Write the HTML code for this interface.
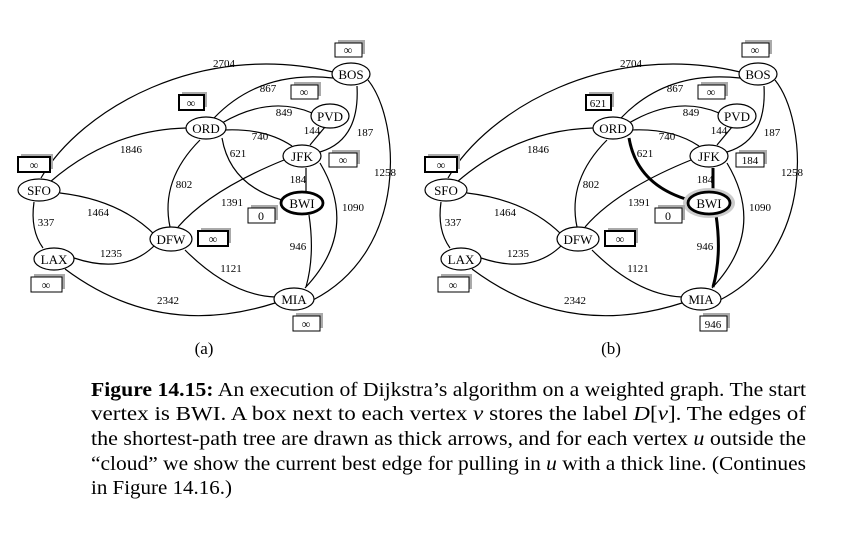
<!DOCTYPE html>
<html><head><meta charset="utf-8"><style>
html,body{margin:0;padding:0;background:#fff;}
svg{display:block;}
text{font-family:"Liberation Serif",serif;}
.l{font-size:11px;fill:#000;text-anchor:middle;}
.n{font-size:13px;text-anchor:middle;}
.e{fill:none;stroke:#000;stroke-width:1.2;}
.t{fill:none;stroke:#000;stroke-width:3;}
.c{font-size:20px;}
</style></head><body>
<svg width="844" height="534" viewBox="0 0 844 534" xmlns="http://www.w3.org/2000/svg">
<defs>
<g id="edges">
<path class="e" d="M41 178 C80 110 200 40 333 72"/>
<path class="e" d="M214 118 Q260 70 333 78"/>
<path class="e" d="M222 123 Q270 95 312 113"/>
<path class="e" d="M224 130 Q265 128 292 146"/>
<path class="e" d="M200 140 Q160 180 170 227"/>
<path class="e" d="M50 182 Q110 130 186 128"/>
<path class="e" d="M325 127 L310 145"/>
<path class="e" d="M357 86 Q360 140 320 152"/>
<path class="e" d="M368 80 C400 120 410 250 313 300"/>
<path class="e" d="M284 160 Q210 190 178 227"/>
<path class="e" d="M320 163 Q360 230 305 288"/>
<path class="e" d="M60 193 Q120 200 155 235"/>
<path class="e" d="M34 202 Q30 230 43 248"/>
<path class="e" d="M74 258 Q125 275 155 245"/>
<path class="e" d="M185 250 Q230 295 275 297"/>
<path class="e" d="M65 269 Q160 340 275 303"/>
</g>
<g id="nodes">
<ellipse cx="351" cy="74" rx="19" ry="11" fill="#fff" stroke="#000" stroke-width="1.2"/>
<ellipse cx="330" cy="116" rx="19" ry="12" fill="#fff" stroke="#000" stroke-width="1.2"/>
<ellipse cx="206" cy="128" rx="20" ry="11" fill="#fff" stroke="#000" stroke-width="1.2"/>
<ellipse cx="302" cy="156" rx="19" ry="11" fill="#fff" stroke="#000" stroke-width="1.2"/>
<ellipse cx="39" cy="190" rx="21" ry="11" fill="#fff" stroke="#000" stroke-width="1.2"/>
<ellipse cx="171" cy="239" rx="21" ry="12" fill="#fff" stroke="#000" stroke-width="1.2"/>
<ellipse cx="54" cy="259" rx="20" ry="11" fill="#fff" stroke="#000" stroke-width="1.2"/>
<ellipse cx="294" cy="299" rx="20" ry="11" fill="#fff" stroke="#000" stroke-width="1.2"/>
<text class="n" x="351" y="79">BOS</text>
<text class="n" x="330" y="121">PVD</text>
<text class="n" x="206" y="133">ORD</text>
<text class="n" x="302" y="161">JFK</text>
<text class="n" x="39" y="195">SFO</text>
<text class="n" x="171" y="244">DFW</text>
<text class="n" x="54" y="264">LAX</text>
<text class="n" x="294" y="304">MIA</text>
<text class="l" x="224" y="67">2704</text>
<text class="l" x="268" y="92">867</text>
<text class="l" x="284" y="116">849</text>
<text class="l" x="312" y="134">144</text>
<text class="l" x="365" y="136">187</text>
<text class="l" x="260" y="140">740</text>
<text class="l" x="131" y="153">1846</text>
<text class="l" x="385" y="176">1258</text>
<text class="l" x="298" y="183">184</text>
<text class="l" x="184" y="188">802</text>
<text class="l" x="232" y="206">1391</text>
<text class="l" x="353" y="211">1090</text>
<text class="l" x="98" y="216">1464</text>
<text class="l" x="46" y="226">337</text>
<text class="l" x="298" y="250">946</text>
<text class="l" x="111" y="257">1235</text>
<text class="l" x="231" y="272">1121</text>
<text class="l" x="168" y="304">2342</text>
</g>
</defs>

<!-- (a) -->
<use href="#edges"/>
<text class="l" x="238" y="157">621</text>
<path class="e" d="M222 138 Q230 185 282 200"/>
<path class="e" d="M306 168 L306 191"/>
<path class="e" d="M309 215 Q315 255 306 287"/>
<use href="#nodes"/>
<ellipse cx="302" cy="203" rx="21" ry="11" fill="#fff" stroke="#000" stroke-width="2.8"/>
<text class="n" x="302" y="208">BWI</text>
<g font-size="12" text-anchor="middle">
<rect x="338" y="40" width="27" height="14" fill="#aaa"/><rect x="335" y="43" width="27" height="14" fill="#fff" stroke="#000"/><text x="348" y="54">∞</text>
<rect x="294" y="82" width="27" height="14" fill="#aaa"/><rect x="291" y="85" width="27" height="14" fill="#fff" stroke="#000"/><text x="304" y="96">∞</text>
<rect x="182" y="92" width="25" height="15" fill="#aaa"/><rect x="179" y="95" width="25" height="15" fill="#fff" stroke="#000" stroke-width="2"/><text x="191" y="107">∞</text>
<rect x="21" y="154" width="32" height="15" fill="#aaa"/><rect x="18" y="157" width="32" height="15" fill="#fff" stroke="#000" stroke-width="2"/><text x="34" y="169">∞</text>
<rect x="332" y="150" width="28" height="14" fill="#aaa"/><rect x="329" y="153" width="28" height="14" fill="#fff" stroke="#000"/><text x="343" y="164">∞</text>
<rect x="251" y="205" width="27" height="15" fill="#aaa"/><rect x="248" y="208" width="27" height="15" fill="#fff" stroke="#000"/><text x="261" y="220">0</text>
<rect x="201" y="228" width="30" height="15" fill="#aaa"/><rect x="198" y="231" width="30" height="15" fill="#fff" stroke="#000" stroke-width="2"/><text x="213" y="243">∞</text>
<rect x="34" y="274" width="31" height="15" fill="#aaa"/><rect x="31" y="277" width="31" height="15" fill="#fff" stroke="#000"/><text x="46" y="289">∞</text>
<rect x="296" y="313" width="27" height="15" fill="#aaa"/><rect x="293" y="316" width="27" height="15" fill="#fff" stroke="#000"/><text x="306" y="328">∞</text>
</g>
<text x="204" y="354" font-size="17" text-anchor="middle">(a)</text>

<!-- (b) -->
<g transform="translate(407,0)">
<use href="#edges"/>
<text class="l" x="238" y="157">621</text>
<path class="t" d="M222 138 Q230 185 282 200"/>
<path class="t" d="M306 168 L306 191"/>
<path class="t" d="M309 215 Q315 255 306 287"/>
<use href="#nodes"/>
<ellipse cx="302" cy="203" rx="26" ry="15" fill="#ccc"/>
<ellipse cx="302" cy="203" rx="21" ry="11" fill="#fff" stroke="#000" stroke-width="2.8"/>
<text class="n" x="302" y="208">BWI</text>
<g font-size="12" text-anchor="middle">
<rect x="338" y="40" width="27" height="14" fill="#aaa"/><rect x="335" y="43" width="27" height="14" fill="#fff" stroke="#000"/><text x="348" y="54">∞</text>
<rect x="294" y="82" width="27" height="14" fill="#aaa"/><rect x="291" y="85" width="27" height="14" fill="#fff" stroke="#000"/><text x="304" y="96">∞</text>
<rect x="182" y="92" width="25" height="15" fill="#aaa"/><rect x="179" y="95" width="25" height="15" fill="#fff" stroke="#000" stroke-width="2"/><text x="191" y="107" font-size="11">621</text>
<rect x="21" y="154" width="32" height="15" fill="#aaa"/><rect x="18" y="157" width="32" height="15" fill="#fff" stroke="#000" stroke-width="2"/><text x="34" y="169">∞</text>
<rect x="332" y="150" width="28" height="14" fill="#aaa"/><rect x="329" y="153" width="28" height="14" fill="#fff" stroke="#000"/><text x="343" y="164" font-size="11">184</text>
<rect x="251" y="205" width="27" height="15" fill="#aaa"/><rect x="248" y="208" width="27" height="15" fill="#fff" stroke="#000"/><text x="261" y="220">0</text>
<rect x="201" y="228" width="30" height="15" fill="#aaa"/><rect x="198" y="231" width="30" height="15" fill="#fff" stroke="#000" stroke-width="2"/><text x="213" y="243">∞</text>
<rect x="34" y="274" width="31" height="15" fill="#aaa"/><rect x="31" y="277" width="31" height="15" fill="#fff" stroke="#000"/><text x="46" y="289">∞</text>
<rect x="296" y="313" width="27" height="15" fill="#aaa"/><rect x="293" y="316" width="27" height="15" fill="#fff" stroke="#000"/><text x="306" y="328" font-size="11">946</text>
</g>
<text x="204" y="354" font-size="17" text-anchor="middle">(b)</text>
</g>

<!-- caption -->
<text class="c" x="91" y="396" textLength="715" lengthAdjust="spacingAndGlyphs"><tspan font-weight="bold">Figure 14.15:</tspan> An execution of Dijkstra’s algorithm on a weighted graph. The start</text>
<text class="c" x="91" y="420" textLength="715" lengthAdjust="spacingAndGlyphs">vertex is BWI. A box next to each vertex <tspan font-style="italic">v</tspan> stores the label <tspan font-style="italic">D</tspan>[<tspan font-style="italic">v</tspan>]. The edges of</text>
<text class="c" x="91" y="445" textLength="715" lengthAdjust="spacingAndGlyphs">the shortest-path tree are drawn as thick arrows, and for each vertex <tspan font-style="italic">u</tspan> outside the</text>
<text class="c" x="91" y="470" textLength="715" lengthAdjust="spacingAndGlyphs">“cloud” we show the current best edge for pulling in <tspan font-style="italic">u</tspan> with a thick line. (Continues</text>
<text class="c" x="91" y="494" textLength="141" lengthAdjust="spacingAndGlyphs">in Figure 14.16.)</text>
</svg>
</body></html>
